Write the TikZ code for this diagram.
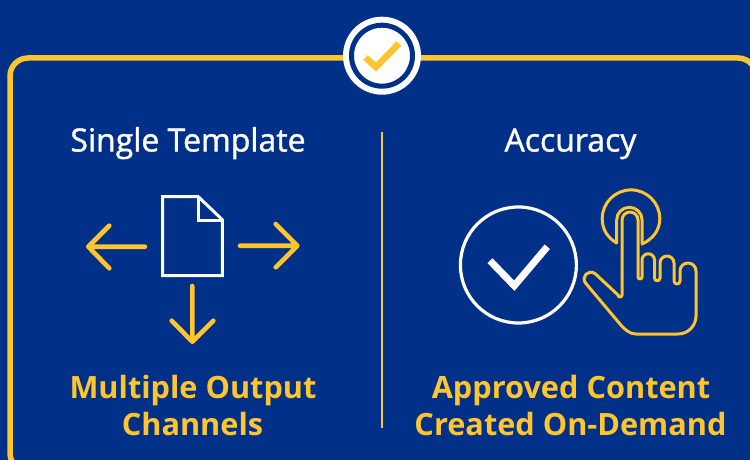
\documentclass[tikz,border=0pt]{standalone}
\usepackage{fontspec}
\setmainfont{Open Sans}
\newfontfamily\headfont[FakeBold=1.2]{Open Sans}
\definecolor{navy}{RGB}{0,48,135}
\definecolor{gold}{RGB}{255,197,46}
\tikzset{
  frameline/.style={draw=gold,line width=5.5pt},
  goldline/.style={draw=gold,line width=4.6pt,line cap=round,line join=round},
  handline/.style={draw=gold,line width=3pt,line cap=round,line join=round},
  whiteline/.style={draw=white,line width=3pt},
  headtext/.style={text=white,anchor=base,font=\headfont\fontsize{32}{34}\selectfont},
  goldtext/.style={text=gold,anchor=base,font=\fontsize{30.7}{34}\selectfont\bfseries},
}
\begin{document}
\begin{tikzpicture}[x=1pt,y=-1pt]
\path[use as bounding box] (0,0) rectangle (750,460);
\fill[navy] (0,0) rectangle (750,460);
\begin{scope}
\clip (0,0) rectangle (750,460);
% frame
\draw[frameline,rounded corners=18pt] (10,58) rectangle (756,471);
\end{scope}
% badge
\node[circle,fill=white,minimum size=78pt,inner sep=0pt] (badge) at (382,55.7) {};
\node[circle,fill=white,draw=navy,line width=5pt,minimum size=61pt,inner sep=0pt] (badgein) at (badge.center) {};
\draw[draw=gold,line width=6.5pt] (365.5,57.5) -- (376,67) -- (399,43.5);
% separator
\coordinate (septop) at (382,132);
\coordinate (sepbot) at (382,428);
\draw[draw=gold,line width=2.2pt] (septop) -- (sepbot);
% headings
\node[headtext] (h1) at (188,151.5) {Single Template};
\node[headtext] (h2) at (570.5,151.5) {Accuracy};
% captions
\node[goldtext] (c1) at (193,398) {Multiple Output};
\node[goldtext] (c2) at (192.5,435) {Channels};
\node[goldtext] (c3) at (571,398) {Approved Content};
\node[goldtext] (c4) at (570.5,435) {Created On-Demand};
% document
\draw[whiteline,line join=miter] (162.7,196.7) -- (198.3,196.7) -- (222.3,219.7) -- (222.3,275.7) -- (162.7,275.7) -- cycle;
\draw[whiteline,line join=miter] (198.3,196.7) -- (198.3,220) -- (222.3,220);
% arrows
\draw[goldline] (145,246.7) -- (88.3,246.7) (109.3,225.7) -- (88.3,246.7) -- (109.3,268.3);
\draw[goldline] (240,245.7) -- (297.3,245.7) (275.7,224) -- (297.3,245.7) -- (275.7,267.3);
\draw[goldline] (192.3,286) -- (192.3,341.7) (171.7,320.7) -- (192.3,341.7) -- (213.3,320.7);
% big check circle
\node[circle,draw=white,line width=3.2pt,minimum size=116pt,inner sep=0pt] (okcircle) at (518.4,265) {};
\draw[draw=white,line width=7pt] (490,260.7) -- (514.3,285.7) -- (547.3,246.7);
% hand
\draw[handline] (622,295) -- (622,220) arc[start angle=180,end angle=360,radius=8]
  -- (638,277) arc[start angle=180,end angle=0,radius=2]
  -- (642,260) arc[start angle=180,end angle=360,radius=6.25]
  -- (654.5,278) arc[start angle=180,end angle=0,radius=2.75]
  -- (660,263) arc[start angle=180,end angle=360,radius=7]
  -- (674,281) arc[start angle=180,end angle=0,radius=3]
  -- (680,271) arc[start angle=180,end angle=360,radius=8]
  -- (696,316) arc[start angle=0,end angle=90,radius=18]
  -- (636,334) .. controls (630,334) and (625,330) .. (620,324)
  -- (585.5,283) .. controls (581,277) and (588,269) .. (595,273.5)
  -- (618,295) arc[start angle=180,end angle=0,radius=2] -- cycle;
\draw[handline] (616.7,243) -- (616.7,220) arc[start angle=180,end angle=360,radius=12.7] -- (642.1,244)
  .. controls (653,239) and (659.8,230) .. (659.8,218.7)
  arc[start angle=0,end angle=-180,radius=28.8]
  .. controls (602.2,230) and (608,238) .. (616.7,243);
\end{tikzpicture}
\end{document}
